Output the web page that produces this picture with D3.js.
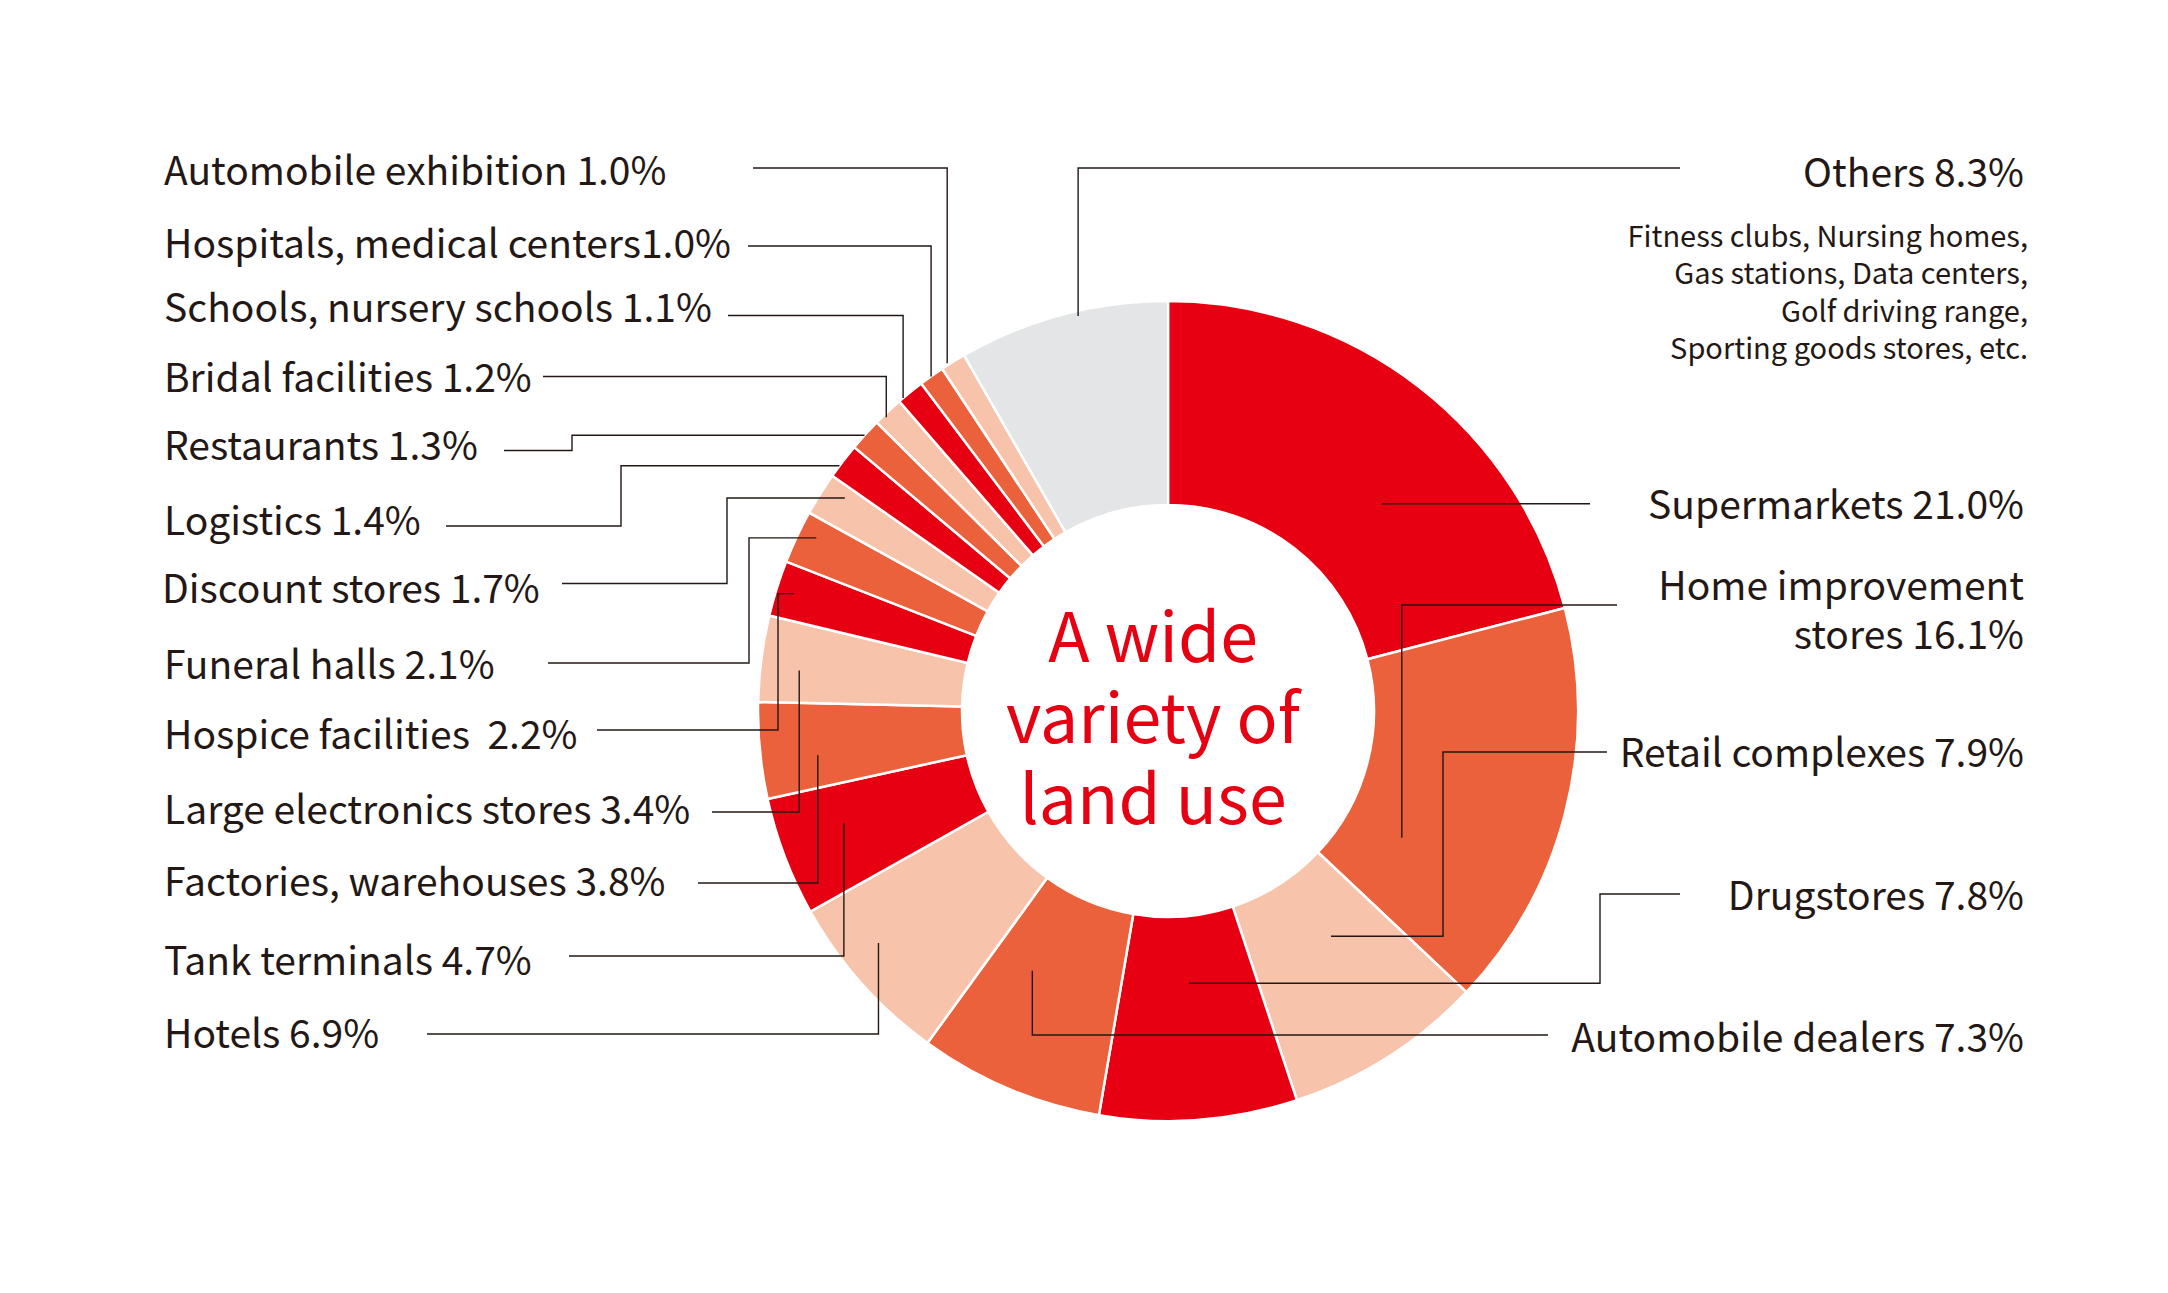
<!DOCTYPE html>
<meta charset="utf-8">
<style>
    html, body { margin: 0; padding: 0; background: #ffffff; }
    svg { display: block; }
    text { font-family: "Noto Sans CJK JP", "Noto Sans", sans-serif; }
</style>

<script src="https://d3js.org/d3.v7.min.js"></script>

<svg id="chart" width="2168" height="1293"></svg>

<script>

// =============================================================================
// Land use breakdown, donut with leader lines
// =============================================================================

// Data (clockwise from 12 o'clock)

var categories = [
    "Supermarkets", "Home improvement stores", "Retail complexes", "Drugstores",
    "Automobile dealers", "Hotels", "Tank terminals", "Factories, warehouses",
    "Large electronics stores", "Hospice facilities", "Funeral halls", "Discount stores",
    "Logistics", "Restaurants", "Bridal facilities", "Schools, nursery schools",
    "Hospitals, medical centers", "Automobile exhibition", "Others"
];

var shares = [21.0, 16.1, 7.9, 7.8, 7.3, 6.9, 4.7, 3.8, 3.4, 2.2, 2.1, 1.7, 1.4, 1.3, 1.2, 1.1, 1.0, 1.0, 8.3];

// label text as printed (line breaks and spacing kept from the original)
var labelNames = [
    ["Supermarkets "], ["Home improvement", "stores "], ["Retail complexes "], ["Drugstores "],
    ["Automobile dealers "], ["Hotels "], ["Tank terminals "], ["Factories, warehouses "],
    ["Large electronics stores "], ["Hospice facilities  "], ["Funeral halls "], ["Discount stores "],
    ["Logistics "], ["Restaurants "], ["Bridal facilities "], ["Schools, nursery schools "],
    ["Hospitals, medical centers"], ["Automobile exhibition "], ["Others "]
];

var othersNote = [
    "Fitness clubs, Nursing homes,",
    "Gas stations, Data centers,",
    "Golf driving range,",
    "Sporting goods stores, etc."
];

var centerTitle = ["A wide", "variety of", "land use"];


// Setup

var svg = d3.select("svg#chart");
var cx = 1168, cy = 711;
var outerR = 410, innerR = 206;

var red = "#e60012", orange = "#ea613c", peach = "#f7c4ab", grey = "#e4e5e7";
var ink = "#231815";

var colorOf = function (i) {
    if (i === shares.length - 1) return grey;
    return [red, orange, peach][i % 3];
};

// Label placement: side, text baseline(s), leader start x / y, optional elbow x,
// and where the leader lands inside its slice (fraction of slice angle, radius).
var layout = [
    { side: "R", ty: [518.5],        lx: 1590, ly: null,  f: 0.609, r: 298 },
    { side: "R", ty: [600, 648.5],   lx: 1617, ly: 605,   f: 0.744, r: 266 },
    { side: "R", ty: [767],          lx: 1607, ly: 752,   ex: 1443, f: 0.381, r: 278 },
    { side: "R", ty: [909.5],        lx: 1680, ly: 894,   ex: 1600, f: 0.497, r: 273 },
    { side: "R", ty: [1052],         lx: 1548, ly: 1035,  f: 0.682, r: 293 },
    { side: "L", ty: [1048],         lx: 427,  ly: 1034,  f: 0.62,  r: 371 },
    { side: "L", ty: [975],          lx: 569,  ly: 956,   f: 0.603, r: 343 },
    { side: "L", ty: [896],          lx: 698,  ly: 883,   f: 0.38,  r: 353 },
    { side: "L", ty: [824],          lx: 712,  ly: 812,   f: 0.41,  r: 371 },
    { side: "L", ty: [749],          lx: 597,  ly: 730,   ex: 778, f: 0.50, r: 392 },
    { side: "L", ty: [679],          lx: 548,  ly: 663,   ex: 749, f: 0.64, r: 392 },
    { side: "L", ty: [603], tx: 162, lx: 562,  ly: 583.5, ex: 727, f: 0.73, r: 387 },
    { side: "L", ty: [535],          lx: 446,  ly: 526,   ex: 621, f: 0.34, r: 410 },
    { side: "L", ty: [460],          lx: 504,  ly: 450.5, ex: 572, f: 0.47, r: 410 },
    { side: "L", ty: [391.7],        lx: 543,  ly: 376.5, f: 0.34,  r: 407 },
    { side: "L", ty: [321.7],        lx: 728,  ly: 315.5, f: 0.18,  r: 410 },
    { side: "L", ty: [257.7],        lx: 748,  ly: 246,   f: 0.475, r: 410 },
    { side: "L", ty: [185],          lx: 753,  ly: 168,   f: 0.28,  r: 412 },
    { side: "R", ty: [186.5],        lx: 1680, ly: 168,   f: 0.57,  r: 405 }
];

var leftX = 164, rightX = 2024;
var fmt = d3.format(".1f");


// Donut

var pie = d3.pie().sort(null).value(function (d) { return d; });
var arcs = pie(shares);

var arc = d3.arc().innerRadius(innerR).outerRadius(outerR);

var g = svg.append("g").attr("transform", "translate(" + cx + "," + cy + ")");

g.selectAll("path.slice")
    .data(arcs)
    .enter().append("path")
    .attr("class", "slice")
    .attr("d", arc)
    .attr("fill", function (d, i) { return colorOf(i); })
    .attr("stroke", "#ffffff")
    .attr("stroke-width", 2.5)
    .attr("stroke-linejoin", "miter");


// Leader lines

var anchorOf = function (a, L) {
    var ang = a.startAngle + L.f * (a.endAngle - a.startAngle);
    return [cx + L.r * Math.sin(ang), cy - L.r * Math.cos(ang)];
};

var leaderPath = function (a, L) {
    var p = anchorOf(a, L);
    if (L.ly === null) {                        // straight across
        return "M" + L.lx + "," + p[1] + "H" + p[0];
    }
    if (L.ex !== undefined) {                   // elbow, then into the slice horizontally
        return "M" + L.lx + "," + L.ly + "H" + L.ex + "V" + p[1] + "H" + p[0];
    }
    return "M" + L.lx + "," + L.ly + "H" + p[0] + "V" + p[1];   // drop straight down / up
};

svg.append("g")
    .selectAll("path")
    .data(arcs)
    .enter().append("path")
    .attr("d", function (d, i) { return leaderPath(d, layout[i]); })
    .attr("fill", "none")
    .attr("stroke", ink)
    .attr("stroke-width", 1.4);


// Labels

var labels = svg.append("g")
    .attr("fill", ink)
    .attr("font-size", 39);

categories.forEach(function (name, i) {
    var L = layout[i];
    var lines = labelNames[i].slice();
    lines[lines.length - 1] += fmt(shares[i]) + "%";

    var t = labels.append("text")
        .attr("text-anchor", L.side === "L" ? "start" : "end")
        .attr("xml:space", "preserve")
        .style("white-space", "pre");

    lines.forEach(function (line, k) {
        t.append("tspan")
            .attr("x", L.side === "L" ? (L.tx || leftX) : rightX)
            .attr("y", L.ty[k])
            .text(line);
    });
});

// Others breakdown note
svg.append("g")
    .attr("fill", ink)
    .attr("font-size", 29)
    .attr("text-anchor", "end")
    .selectAll("text")
    .data(othersNote)
    .enter().append("text")
    .attr("x", 2028)
    .attr("y", function (d, i) { return 247 + i * 37.4; })
    .text(function (d) { return d; });


// Center title

svg.append("g")
    .attr("fill", red)
    .attr("font-size", 68)
    .attr("text-anchor", "middle")
    .selectAll("text")
    .data(centerTitle)
    .enter().append("text")
    .attr("x", 1153)
    .attr("y", function (d, i) { return 662 + i * 81; })
    .text(function (d) { return d; });

</script>
